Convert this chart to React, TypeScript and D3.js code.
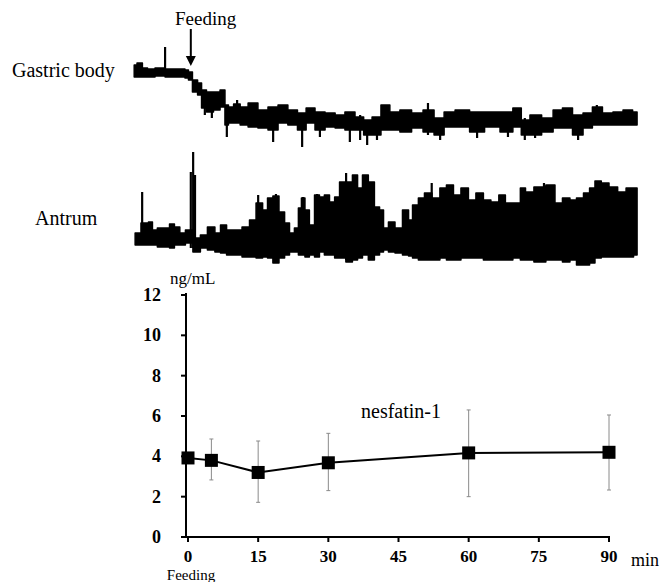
import React from "react";
import * as d3 from "d3";

// ---- nesfatin-1 plasma levels ----
const timePoints = [0, 5, 15, 30, 60, 90];
const nesfatinMean = [3.92, 3.8, 3.2, 3.68, 4.17, 4.2];
const nesfatinUpper = [4.1, 4.86, 4.76, 5.14, 6.3, 6.05];
const nesfatinLower = [3.75, 2.83, 1.72, 2.3, 2.0, 2.33];
const yTicks = [0, 2, 4, 6, 8, 10, 12];
const xTicks = [0, 15, 30, 45, 60, 75, 90];

// ---- Gastric body motility trace (time in min, arbitrary units) ----
const gbTime = [-11.5, -10.3, -9.2, -8.1, -6.0, -3.8, -1.1, -0.2, 0.4, 1.5, 2.6, 3.2, 4.7, 6.2, 7.5, 8.3, 9.0, 10.5, 11.8, 13.9, 16.0, 18.2, 20.3, 22.4, 24.4, 26.1, 28.2, 30.4, 32.5, 34.6, 36.8, 38.3, 40.4, 42.1, 44.2, 46.4, 49.2, 51.3, 53.9, 55.6, 58.6, 61.8, 65.0, 68.4, 70.5, 72.0, 74.2, 77.0, 79.1, 81.0, 83.4, 85.5, 87.4, 89.8, 91.9, 94.1, 96.0];
const gbHigh = [85, 87, 82, 81, 82, 81, 81, 80, 78, 70, 67, 60, 58, 58, 60, 45, 43, 46, 43, 47, 40, 43, 45, 40, 37, 42, 38, 37, 35, 38, 33, 30, 33, 45, 38, 40, 37, 40, 32, 38, 40, 38, 38, 38, 42, 30, 35, 32, 40, 42, 35, 37, 43, 37, 38, 40, 38];
const gbLow = [73, 73, 73, 73, 74, 73, 73, 72, 70, 58, 55, 42, 38, 40, 43, 25, 27, 27, 25, 23, 22, 20, 27, 25, 20, 27, 20, 23, 22, 20, 20, 15, 15, 20, 20, 18, 22, 18, 15, 23, 23, 18, 23, 18, 23, 15, 15, 18, 22, 22, 15, 22, 25, 25, 25, 25, 25];
const gbSpikeTime = [-4.9, 3.6, 5.1, 8.3, 10.5, 18.2, 24.4, 28.2, 34.6, 36.8, 38.3, 40.4, 51.3, 53.9, 61.8, 68.4, 72.0, 74.2, 83.4, 87.4];
const gbSpikeHigh = [103, 60, 58, 45, 50, 43, 37, 38, 38, 35, 30, 33, 47, 32, 38, 38, 32, 35, 35, 45];
const gbSpikeLow = [75, 35, 32, 13, 27, 8, 3, 13, 8, 10, 5, 10, 15, 10, 12, 13, 10, 12, 10, 25];

// ---- Antrum motility trace ----
const anTime = [-11.3, -8.8, -8.1, -7.1, -6.0, -4.5, -3.4, -2.4, -1.1, 0.0, 2.1, 3.2, 5.1, 6.4, 7.5, 9.0, 10.5, 12.6, 13.7, 15.4, 16.5, 17.5, 18.8, 20.1, 21.2, 22.2, 23.3, 23.9, 24.6, 25.4, 26.5, 27.6, 28.6, 29.7, 30.8, 31.9, 32.9, 34.6, 35.7, 36.8, 37.8, 39.3, 40.4, 41.5, 42.1, 43.6, 44.9, 46.8, 47.5, 48.5, 50.0, 51.1, 53.2, 54.5, 56.0, 57.5, 59.2, 60.7, 62.4, 63.9, 65.6, 67.3, 68.4, 70.5, 71.6, 72.7, 75.2, 77.8, 79.1, 81.0, 82.3, 83.8, 85.3, 86.4, 87.6, 89.1, 90.9, 92.8, 94.5, 96.0];
const anHigh = [37, 47, 48, 40, 42, 42, 46, 43, 37, 40, 32, 35, 43, 37, 45, 40, 40, 43, 50, 67, 60, 72, 74, 58, 47, 37, 42, 62, 72, 60, 45, 75, 73, 75, 68, 73, 88, 88, 95, 82, 95, 88, 63, 60, 42, 48, 42, 60, 50, 65, 72, 77, 72, 82, 85, 75, 82, 70, 77, 70, 68, 75, 67, 67, 82, 78, 83, 85, 67, 72, 70, 72, 77, 82, 89, 87, 83, 78, 82, 82];
const anLow = [25, 25, 25, 25, 23, 23, 22, 25, 25, 27, 18, 22, 20, 18, 17, 15, 15, 13, 13, 12, 13, 12, 7, 12, 15, 18, 18, 15, 15, 13, 15, 13, 18, 15, 15, 12, 12, 8, 10, 12, 15, 10, 15, 18, 20, 18, 17, 15, 14, 12, 10, 10, 10, 12, 10, 10, 12, 12, 12, 10, 10, 10, 10, 12, 10, 10, 8, 10, 10, 8, 10, 5, 5, 7, 12, 13, 13, 13, 13, 15];
const anSpikeTime = [-9.8, 0.6, 1.1, 1.5, 15.0, 18.8, 24.6, 27.6, 33.8, 52.1, 76.1];
const anSpikeHigh = [78, 98, 118, 95, 75, 76, 73, 76, 97, 87, 87];
const anSpikeLow = [25, 22, 22, 22, 13, 8, 15, 13, 10, 10, 10];

const feedingArrowTime = 0.6;

const FONT = "'Liberation Serif', 'Times New Roman', Times, serif";

export default function App() {
  const x = d3.scaleLinear().domain([0, 90]).range([188, 609]);
  const y = d3.scaleLinear().domain([0, 12]).range([537, 295]);
  const gbY = d3.scaleLinear().domain([0, 110]).range([150, 40]);
  const anY = d3.scaleLinear().domain([0, 125]).range([270, 145]);

  const gbArea = d3
    .area<number>()
    .curve(d3.curveStep)
    .x((i) => x(gbTime[i]))
    .y0((i) => gbY(gbLow[i]))
    .y1((i) => gbY(gbHigh[i]))(d3.range(gbTime.length)) as string;

  const anArea = d3
    .area<number>()
    .curve(d3.curveStep)
    .x((i) => x(anTime[i]))
    .y0((i) => anY(anLow[i]))
    .y1((i) => anY(anHigh[i]))(d3.range(anTime.length)) as string;

  const meanLine = d3
    .line<number>()
    .x((i) => x(timePoints[i]))
    .y((i) => y(nesfatinMean[i]))(d3.range(timePoints.length)) as string;

  const ax = x(feedingArrowTime);
  const ms = 13;
  const ts = { fontFamily: FONT };

  return (
    <svg
      width={663}
      height={582}
      style={{ position: "absolute", left: 0, top: 0, background: "#fff", fontFamily: FONT }}
    >
      <rect x={0} y={0} width={663} height={582} fill="#fff" />

      {/* Top annotation */}
      <text style={ts} x={175} y={25} fontSize={19}>Feeding</text>
      <line x1={ax} y1={29} x2={ax} y2={58} stroke="#000" strokeWidth={2} />
      <path d={`M${ax - 5},56 L${ax + 5},56 L${ax},66 Z`} fill="#000" />

      {/* Gastric body trace */}
      <text style={ts} x={12} y={77} fontSize={20}>Gastric body</text>
      <path d={gbArea} fill="#000" stroke="#000" strokeWidth={1.5} strokeLinejoin="round" />
      {gbSpikeTime.map((t, i) => (
        <line key={"gs" + i} x1={x(t)} x2={x(t)} y1={gbY(gbSpikeHigh[i])} y2={gbY(gbSpikeLow[i])} stroke="#000" strokeWidth={2.2} />
      ))}

      {/* Antrum trace */}
      <text style={ts} x={35} y={225} fontSize={20}>Antrum</text>
      <path d={anArea} fill="#000" stroke="#000" strokeWidth={1.5} strokeLinejoin="round" />
      {anSpikeTime.map((t, i) => (
        <line key={"as" + i} x1={x(t)} x2={x(t)} y1={anY(anSpikeHigh[i])} y2={anY(anSpikeLow[i])} stroke="#000" strokeWidth={2.2} />
      ))}

      {/* Axes */}
      <line x1={x(0) - 2} y1={y(0)} x2={x(90) + 1} y2={y(0)} stroke="#000" strokeWidth={2} />
      <line x1={x(0) - 2} y1={y(0) + 1} x2={x(0) - 2} y2={y(12) - 2} stroke="#000" strokeWidth={2} />
      {yTicks.map((v) => (
        <g key={"yt" + v}>
          <line x1={x(0) - 7} x2={x(0) - 2} y1={y(v)} y2={y(v)} stroke="#000" strokeWidth={2} />
          <text style={ts} x={161} y={y(v) + 6} fontSize={18} fontWeight="bold" textAnchor="end">{v}</text>
        </g>
      ))}
      {xTicks.map((v) => (
        <g key={"xt" + v}>
          <line x1={x(v)} x2={x(v)} y1={y(0)} y2={y(0) + 5} stroke="#000" strokeWidth={2} />
          <text style={ts} x={x(v)} y={562} fontSize={17} fontWeight="bold" textAnchor="middle">{v}</text>
        </g>
      ))}
      <text style={ts} x={170} y={284} fontSize={17}>ng/mL</text>
      <text style={ts} x={631} y={566} fontSize={18}>min</text>
      <text style={ts} x={191} y={580} fontSize={15} textAnchor="middle">Feeding</text>

      {/* Error bars */}
      {timePoints.map((t, i) => (
        <g key={"eb" + i} stroke="#8a8a8a" strokeWidth={1}>
          <line x1={x(t)} x2={x(t)} y1={y(nesfatinUpper[i])} y2={y(nesfatinLower[i])} />
          <line x1={x(t) - 2} x2={x(t) + 2} y1={y(nesfatinUpper[i])} y2={y(nesfatinUpper[i])} />
          <line x1={x(t) - 2} x2={x(t) + 2} y1={y(nesfatinLower[i])} y2={y(nesfatinLower[i])} />
        </g>
      ))}

      {/* Mean line and markers */}
      <path d={meanLine} fill="none" stroke="#000" strokeWidth={2} />
      {timePoints.map((t, i) => (
        <rect key={"m" + i} x={x(t) - ms / 2} y={y(nesfatinMean[i]) - ms / 2} width={ms} height={ms} fill="#000" />
      ))}

      <text style={ts} x={361} y={418} fontSize={20}>nesfatin-1</text>
    </svg>
  );
}
